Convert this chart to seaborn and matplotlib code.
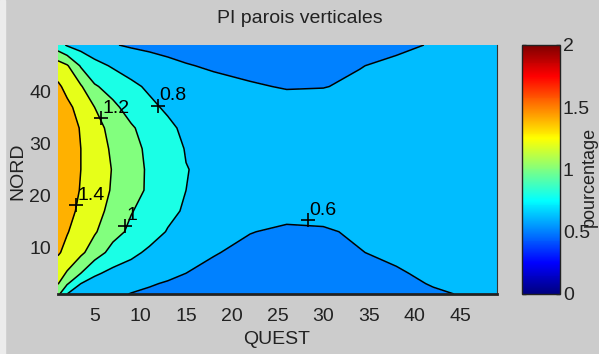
import matplotlib
matplotlib.use("Agg")
import matplotlib.pyplot as plt
from matplotlib.cm import ScalarMappable
from matplotlib.colors import Normalize, LinearSegmentedColormap
from matplotlib.patches import Rectangle
import seaborn as sns
import numpy as np

# grille (QUEST en x, NORD en y)
ouest = [1, 2, 3.5, 5, 7, 9, 11, 13, 15, 18, 22, 26, 30, 34, 38, 42, 46, 49]
nord = [1, 3, 5, 9, 13, 17, 21, 25, 29, 33, 37, 41, 45, 49]

pi_parois = [
    [1.05, 0.80, 0.72, 0.68, 0.63, 0.595, 0.57, 0.55, 0.53, 0.51, 0.495, 0.49, 0.495, 0.51, 0.54, 0.58, 0.615, 0.63],
    [1.21, 1.02, 0.80, 0.73, 0.68, 0.645, 0.615, 0.585, 0.56, 0.53, 0.51, 0.50, 0.505, 0.52, 0.56, 0.61, 0.64, 0.65],
    [1.29, 1.18, 1.00, 0.83, 0.75, 0.72, 0.68, 0.64, 0.60, 0.56, 0.53, 0.51, 0.52, 0.54, 0.585, 0.63, 0.65, 0.66],
    [1.42, 1.35, 1.24, 1.10, 0.93, 0.84, 0.77, 0.73, 0.68, 0.61, 0.56, 0.54, 0.55, 0.595, 0.63, 0.65, 0.66, 0.665],
    [1.48, 1.41, 1.32, 1.22, 1.07, 0.96, 0.87, 0.79, 0.74, 0.68, 0.605, 0.575, 0.585, 0.62, 0.645, 0.66, 0.67, 0.675],
    [1.52, 1.46, 1.36, 1.27, 1.14, 1.01, 0.93, 0.84, 0.78, 0.72, 0.67, 0.645, 0.645, 0.655, 0.665, 0.67, 0.675, 0.68],
    [1.53, 1.48, 1.39, 1.30, 1.18, 1.07, 0.97, 0.88, 0.80, 0.75, 0.72, 0.70, 0.69, 0.69, 0.69, 0.69, 0.69, 0.69],
    [1.55, 1.49, 1.40, 1.31, 1.19, 1.08, 0.97, 0.89, 0.805, 0.76, 0.73, 0.71, 0.70, 0.70, 0.70, 0.70, 0.70, 0.70],
    [1.55, 1.49, 1.40, 1.30, 1.17, 1.06, 0.96, 0.88, 0.79, 0.75, 0.72, 0.70, 0.70, 0.70, 0.70, 0.70, 0.70, 0.70],
    [1.53, 1.47, 1.39, 1.27, 1.14, 1.02, 0.93, 0.84, 0.76, 0.74, 0.71, 0.69, 0.69, 0.69, 0.69, 0.69, 0.69, 0.69],
    [1.50, 1.44, 1.34, 1.20, 1.04, 0.93, 0.84, 0.77, 0.74, 0.71, 0.68, 0.66, 0.66, 0.665, 0.67, 0.67, 0.675, 0.68],
    [1.43, 1.35, 1.22, 1.02, 0.93, 0.84, 0.77, 0.72, 0.69, 0.65, 0.615, 0.59, 0.595, 0.625, 0.645, 0.655, 0.66, 0.665],
    [1.30, 1.22, 0.98, 0.86, 0.78, 0.72, 0.68, 0.64, 0.61, 0.58, 0.555, 0.54, 0.55, 0.595, 0.63, 0.645, 0.65, 0.655],
    [0.88, 0.78, 0.72, 0.67, 0.61, 0.58, 0.56, 0.545, 0.53, 0.52, 0.51, 0.505, 0.51, 0.53, 0.57, 0.61, 0.63, 0.64],
]

niveaux = [0.4, 0.6, 0.8, 1.0, 1.2, 1.4, 1.6]
couleur_niveau = [0.5, 0.62, 0.8, 1.0, 1.2, 1.4]   # valeur utilisee pour la couleur de chaque bande
lignes = [0.6, 0.8, 1.0, 1.2, 1.4]

# etiquettes des courbes (valeur, point sur la courbe)
etiq_valeurs = ["1.4", "1.2", "1", "0.8", "0.6"]
etiq_x = [3.0, 5.7, 8.3, 11.9, 28.3]
etiq_y = [18.1, 34.9, 14.2, 37.3, 15.2]

cb_ticks = [0, 0.5, 1, 1.5, 2]

sns.set_style("white")
plt.rcParams['font.family'] = ['Liberation Sans', 'DejaVu Sans']
plt.rcParams['font.size'] = 14

# jet facon MATLAB
jet = LinearSegmentedColormap.from_list("jet_matlab", [
    (0.0, (0, 0, 0.5)), (0.125, (0, 0, 1)), (0.375, (0, 1, 1)),
    (0.625, (1, 1, 0)), (0.875, (1, 0, 0)), (1.0, (0.5, 0, 0))])
norme = Normalize(vmin=0, vmax=2)
gris = "#cccccc"
texte = "#222222"

fig = plt.figure(figsize=(5.99, 3.54), dpi=100, facecolor=gris)
fig.patches.append(Rectangle((0, 0), 0.008, 1, transform=fig.transFigure, color="#ececec", zorder=0))

ax = fig.add_axes([0.0968, 0.1695, 0.733, 0.7034])
cax = fig.add_axes([0.8715, 0.1695, 0.0634, 0.7034])

X, Y = np.meshgrid(ouest, nord)
Z = np.array(pi_parois)

ax.contourf(X, Y, Z, levels=niveaux, colors=[jet(norme(v)) for v in couleur_niveau])
ax.contour(X, Y, Z, levels=lignes, colors='k', linewidths=1.1)

for val, px, py in zip(etiq_valeurs, etiq_x, etiq_y):
    ax.plot(px, py, marker='+', color='k', markersize=10, markeredgewidth=1.2)
    ax.annotate(val, (px, py), xytext=(1, 1), textcoords='offset points',
                ha='left', va='bottom', color='k', fontsize=14)

ax.set_xlim(1, 49)
ax.set_ylim(1, 49)
ax.set_xticks(range(5, 50, 5))
ax.set_yticks(range(10, 50, 10))
ax.tick_params(length=0, labelcolor=texte, labelsize=14)
ax.tick_params(axis='x', pad=10)
ax.tick_params(axis='y', pad=5)
for cote in ['top', 'left']:
    ax.spines[cote].set_visible(False)
ax.spines['bottom'].set_linewidth(2)
ax.spines['bottom'].set_color('#222222')
ax.spines['right'].set_color('#333333')
ax.set_xlabel("")
ax.set_ylabel("")

cb = fig.colorbar(ScalarMappable(norm=norme, cmap=jet), cax=cax, ticks=cb_ticks)
cb.ax.set_yticklabels([f"{t:g}" for t in cb_ticks])
cb.ax.tick_params(direction='in', left=True, right=True, length=3, width=1,
                  labelcolor=texte, labelsize=14, pad=2)
cb.outline.set_linewidth(1)
cb.outline.set_edgecolor('#222222')

fig.text(0.5008, 0.949, "PI parois verticales", ha='center', va='center', fontsize=14, color=texte)
fig.text(0.461, 0.040, "QUEST", ha='center', va='center', fontsize=14, color=texte)
fig.text(0.030, 0.515, "NORD", ha='center', va='center', rotation=90, fontsize=14, color=texte)
fig.text(0.984, 0.50, "pourcentage", ha='center', va='center', rotation=90, fontsize=13, color=texte)

fig.savefig("out.png", dpi=100, facecolor=fig.get_facecolor())
